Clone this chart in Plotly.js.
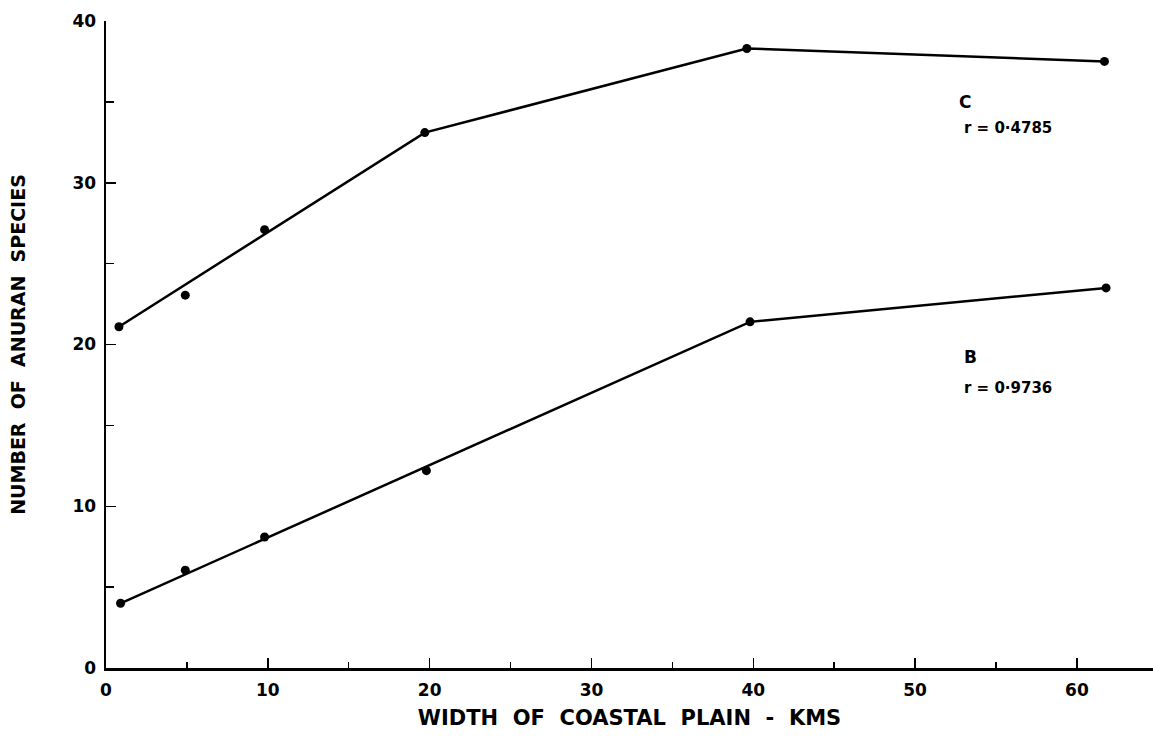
<!DOCTYPE html>
<html>
<head>
<meta charset="utf-8">
<script src="https://cdn.plot.ly/plotly-3.0.1.min.js"></script>
<style>html,body{margin:0;padding:0;background:#fff;}#chart{width:1153px;height:750px;}</style>
</head>
<body>
<div id="chart"></div>
<script>
// Observed points
const widthC = [0.8, 4.9, 9.8, 19.7, 39.6, 61.7];
const speciesC = [21.1, 23.05, 27.1, 33.1, 38.3, 37.5];
const widthB = [0.9, 4.9, 9.8, 19.8, 39.8, 61.8];
const speciesB = [4.0, 6.05, 8.1, 12.2, 21.4, 23.5];
// Fitted lines (vertices)
const fitWidthC = [0.8, 19.7, 39.6, 61.7];
const fitSpeciesC = [21.1, 33.1, 38.3, 37.5];
const fitWidthB = [0.9, 39.8, 61.8];
const fitSpeciesB = [4.0, 21.4, 23.5];
// Labels
const curveLabels = ["C", "B"];
const rValues = ["r = 0·4785", "r = 0·9736"];
const xTicks = [0, 10, 20, 30, 40, 50, 60];
const yTicks = [0, 10, 20, 30, 40];

const font = {family: "DejaVu Sans, sans-serif", color: "#000", weight: "bold"};

const traces = [
  {x: fitWidthC, y: fitSpeciesC, mode: "lines", line: {color: "#000", width: 2.5}, hoverinfo: "skip"},
  {x: fitWidthB, y: fitSpeciesB, mode: "lines", line: {color: "#000", width: 2.5}, hoverinfo: "skip"},
  {x: widthC, y: speciesC, mode: "markers", marker: {color: "#000", size: 9}},
  {x: widthB, y: speciesB, mode: "markers", marker: {color: "#000", size: 9}}
];

const layout = {
  width: 1153, height: 750,
  margin: {l: 106, r: 0, t: 21, b: 82, pad: 0},
  paper_bgcolor: "#fff", plot_bgcolor: "#fff",
  showlegend: false,
  font: Object.assign({}, font, {size: 16}),
  xaxis: {
    range: [0, 64.7], tickvals: xTicks, ticktext: xTicks.map(String),
    showgrid: false, zeroline: false, showline: true, linecolor: "#000", linewidth: 2.5,
    ticks: "inside", ticklen: 10, tickwidth: 1.5, tickcolor: "#000",
    minor: {dtick: 5, ticks: "inside", ticklen: 6, tickwidth: 1.5, tickcolor: "#000"},
    tickfont: Object.assign({}, font, {size: 17}), ticklabelstandoff: 5,
    title: {text: "WIDTH  OF  COASTAL  PLAIN  -  KMS", font: Object.assign({}, font, {size: 21}), standoff: 12}
  },
  yaxis: {
    range: [0, 40], tickvals: yTicks, ticktext: yTicks.map(String),
    showgrid: false, zeroline: false, showline: true, linecolor: "#000", linewidth: 2.5,
    ticks: "inside", ticklen: 10, tickwidth: 1.5, tickcolor: "#000",
    minor: {dtick: 5, ticks: "inside", ticklen: 8, tickwidth: 1.5, tickcolor: "#000"},
    tickfont: Object.assign({}, font, {size: 17}), ticklabelstandoff: 4,
    title: {text: "NUMBER  OF  ANURAN  SPECIES", font: Object.assign({}, font, {size: 19}), standoff: 42}
  },
  annotations: [
    {x: 52.6, y: 35.0, text: curveLabels[0], showarrow: false, xanchor: "left", font: Object.assign({}, font, {size: 17})},
    {x: 52.9, y: 33.4, text: rValues[0], showarrow: false, xanchor: "left", font: Object.assign({}, font, {size: 15})},
    {x: 52.9, y: 19.2, text: curveLabels[1], showarrow: false, xanchor: "left", font: Object.assign({}, font, {size: 17})},
    {x: 52.9, y: 17.3, text: rValues[1], showarrow: false, xanchor: "left", font: Object.assign({}, font, {size: 15})}
  ]
};

Plotly.newPlot("chart", traces, layout, {displayModeBar: false, staticPlot: true});
</script>
</body>
</html>
